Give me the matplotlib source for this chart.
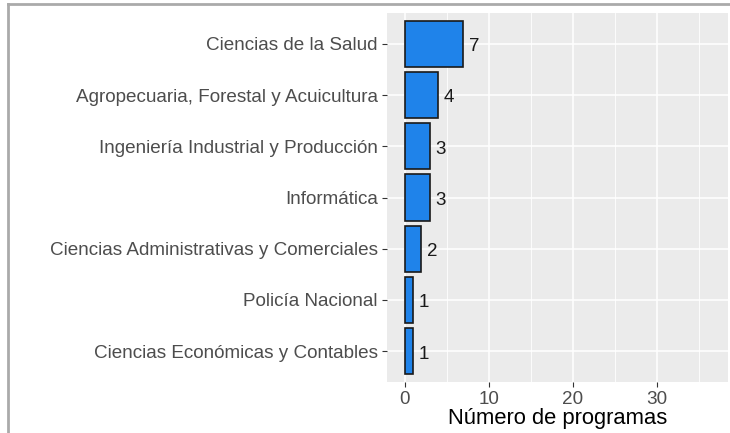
import matplotlib.pyplot as plt
from matplotlib.ticker import MultipleLocator

# data, bottom to top as drawn
categorias = ['Ciencias Económicas y Contables',
              'Policía Nacional',
              'Ciencias Administrativas y Comerciales',
              'Informática',
              'Ingeniería Industrial y Producción',
              'Agropecuaria, Forestal y Acuicultura',
              'Ciencias de la Salud']
programas = [1, 1, 2, 3, 3, 4, 7]

plt.rcParams['font.family'] = ['Liberation Sans', 'DejaVu Sans']

W, H = 730, 433
fig = plt.figure(figsize=(W / 100, H / 100), dpi=100)

# grey frame at top and left of the picture
fig.add_artist(plt.Line2D([8 / W, 8 / W], [0, 1 - 4 / H], transform=fig.transFigure,
                          color='#AAAAAA', lw=2))
fig.add_artist(plt.Line2D([8 / W, 1], [1 - 4 / H, 1 - 4 / H], transform=fig.transFigure,
                          color='#AAAAAA', lw=2))

left, right, top, bottom = 387, 728, 13, 382
ax = fig.add_axes([left / W, 1 - bottom / H, (right - left) / W, (bottom - top) / H])
ax.set_facecolor('#EBEBEB')
for s in ax.spines.values():
    s.set_visible(False)

pos = list(range(1, len(categorias) + 1))
ax.barh(pos, programas, height=0.9, color='#1F83EA', edgecolor='#1A1A1A', linewidth=1.2, zorder=3)
for p, v in zip(pos, programas):
    ax.annotate(str(v), (v, p), xytext=(4, -2), textcoords='offset points',
                ha='left', va='center', fontsize=13.5, color='#1A1A1A', zorder=4)

ax.set_xlim(-2.1, 38.5)
ax.set_ylim(0.4, 7.6)
ax.xaxis.set_major_locator(MultipleLocator(10))
ax.xaxis.set_minor_locator(MultipleLocator(5))
ax.set_yticks(pos)
ax.set_yticklabels(categorias)
ax.grid(which='major', color='white', lw=1.1, zorder=0)
ax.grid(which='minor', axis='x', color='white', lw=0.6, zorder=0)
ax.set_axisbelow(True)
ax.tick_params(which='major', length=3.5, width=0.8, color='#333333', labelcolor='#4D4D4D',
               labelsize=13.6, pad=3)
ax.tick_params(which='minor', length=0)
ax.set_xlabel('Número de programas', fontsize=15.8, color='black', labelpad=0)

fig.savefig('out.png', dpi=100)
